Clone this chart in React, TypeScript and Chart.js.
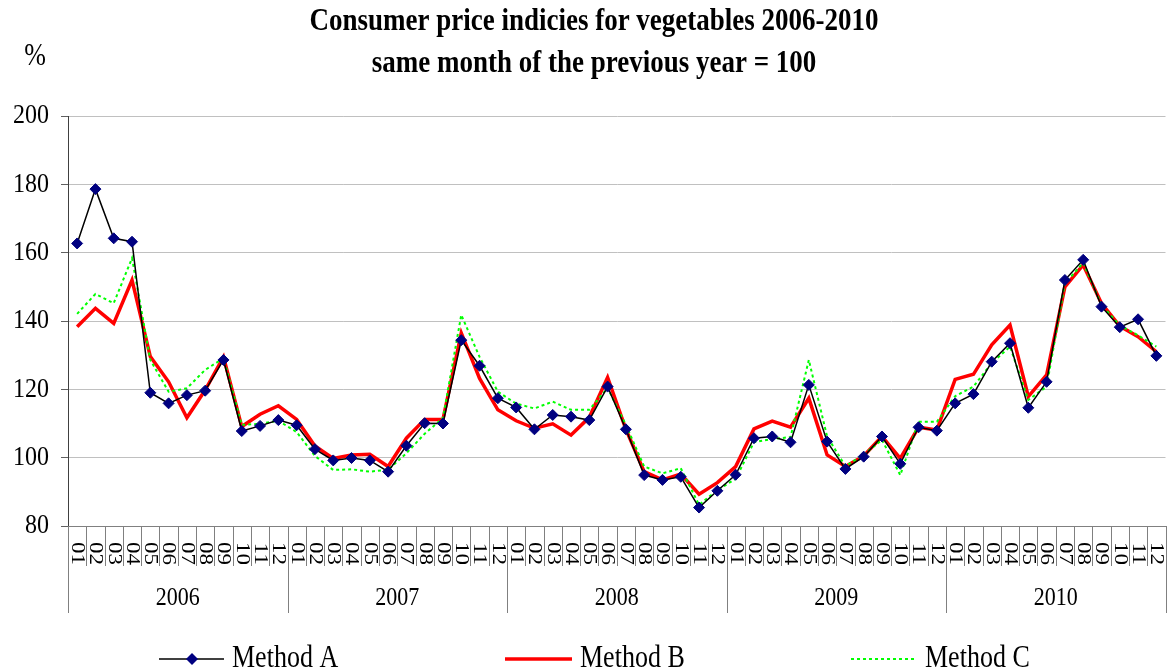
import React, { useEffect, useRef } from 'react';
import { Chart, registerables } from 'chart.js';

Chart.register(...registerables);

const years = ['2006', '2007', '2008', '2009', '2010'];
const months = ['01', '02', '03', '04', '05', '06', '07', '08', '09', '10', '11', '12'];
const categories = years.flatMap((y) => months.map((m) => `${y}-${m}`));
const yTicks = [80, 100, 120, 140, 160, 180, 200];

const methodA = [
  162.7, 178.6, 164.2, 163.2, 119.0, 115.9, 118.3, 119.6, 128.6, 107.8, 109.3, 111.0,
  109.5, 102.5, 99.2, 99.9, 99.2, 95.9, 103.5, 110.1, 110.0, 134.4, 126.9, 117.4,
  114.7, 108.3, 112.5, 112.0, 111.0, 120.8, 108.3, 94.9, 93.5, 94.4, 85.4, 90.3,
  95.0, 105.7, 106.2, 104.5, 121.3, 104.7, 96.7, 100.3, 106.2, 98.2, 108.9, 107.9,
  115.9, 118.6, 128.1, 133.5, 114.6, 122.2, 152.0, 157.9, 144.2, 138.2, 140.5, 129.8,
];

const methodB = [
  138.3, 143.7, 139.3, 152.0, 129.6, 122.2, 111.7, 119.8, 129.5, 109.1, 112.7, 115.2,
  111.2, 103.4, 99.8, 100.8, 101.0, 97.4, 105.7, 111.2, 111.2, 136.5, 123.2, 114.0,
  110.8, 108.6, 109.9, 106.6, 111.8, 123.5, 108.3, 95.9, 93.5, 95.2, 89.3, 92.7,
  97.4, 108.4, 110.7, 108.9, 117.4, 100.8, 97.4, 100.5, 106.2, 99.8, 108.9, 108.1,
  122.9, 124.4, 133.0, 138.8, 117.9, 124.2, 150.0, 156.4, 145.2, 138.5, 135.4, 131.0,
];

const methodC = [
  142.1, 147.9, 145.2, 158.4, 128.6, 119.3, 120.3, 125.7, 129.1, 109.6, 109.9, 110.8,
  107.5, 100.5, 96.4, 96.6, 95.9, 96.5, 101.3, 107.0, 111.6, 141.8, 129.5, 119.3,
  115.8, 114.4, 116.4, 114.0, 114.0, 120.4, 109.6, 97.4, 95.4, 96.9, 86.2, 90.5,
  93.8, 104.5, 105.5, 106.0, 128.6, 106.2, 97.5, 100.9, 105.2, 94.9, 110.5, 110.5,
  118.0, 120.8, 127.7, 132.5, 116.9, 120.8, 151.0, 157.0, 144.7, 138.7, 135.8, 132.5,
];

const titleLines = ['Consumer price indicies for vegetables 2006-2010', 'same month of the previous year = 100'];
const unitLabel = '%';
const seriesNames = ['Method A', 'Method B', 'Method C'];

const SERIF = '"Liberation Serif", "Times New Roman", serif';
// text in this chart is set slightly tall and narrow
const STRETCH = 1.18;

function tallText(ctx: CanvasRenderingContext2D, text: string, x: number, y: number, font: string, align: CanvasTextAlign) {
  ctx.save();
  ctx.font = font;
  ctx.textAlign = align;
  ctx.textBaseline = 'middle';
  ctx.translate(x, y);
  ctx.scale(1, STRETCH);
  ctx.fillText(text, 0, 0);
  ctx.restore();
}

const decorPlugin = {
  id: 'decor',
  afterDraw(chart: any) {
    const { ctx, chartArea } = chart;
    const { left, right, bottom } = chartArea;
    const xScale = chart.scales.x;
    const yScale = chart.scales.y;
    const n = categories.length;
    const w = (right - left) / n;
    ctx.save();
    ctx.fillStyle = '#000';

    // value axis labels
    yTicks.forEach((v) => {
      tallText(ctx, String(v), 49, yScale.getPixelForValue(v), `24px ${SERIF}`, 'right');
    });

    // category separators (month ticks and longer year dividers)
    ctx.strokeStyle = '#808080';
    ctx.lineWidth = 1;
    for (let i = 0; i <= n; i++) {
      const x = Math.round(left + i * w) + 0.5;
      const len = i % 12 === 0 ? 87 : 40;
      ctx.beginPath();
      ctx.moveTo(x, bottom);
      ctx.lineTo(x, bottom + len);
      ctx.stroke();
    }

    // month labels, rotated to read top to bottom
    ctx.font = `19.5px ${SERIF}`;
    ctx.textAlign = 'right';
    ctx.textBaseline = 'middle';
    categories.forEach((c, i) => {
      const xc = xScale.getPixelForValue(i);
      ctx.save();
      ctx.translate(xc, bottom + 39);
      ctx.rotate(Math.PI / 2);
      ctx.scale(STRETCH, 1);
      ctx.fillText(c.split('-')[1], 0, 0);
      ctx.restore();
    });

    // year labels
    years.forEach((y, k) => {
      const x0 = left + k * 12 * w;
      tallText(ctx, y, x0 + 6 * w, bottom + 72, `22px ${SERIF}`, 'center');
    });

    // title
    tallText(ctx, titleLines[0], 594, 22, `bold 27px ${SERIF}`, 'center');
    tallText(ctx, titleLines[1], 594, 64, `bold 27px ${SERIF}`, 'center');

    // unit label
    tallText(ctx, unitLabel, 35, 57, `26px ${SERIF}`, 'center');

    // legend
    const ly = 659;
    const lf = `26px ${SERIF}`;

    ctx.strokeStyle = '#000';
    ctx.lineWidth = 1.5;
    ctx.beginPath();
    ctx.moveTo(159, ly);
    ctx.lineTo(224, ly);
    ctx.stroke();
    ctx.fillStyle = '#000080';
    ctx.beginPath();
    ctx.moveTo(192, ly - 6);
    ctx.lineTo(198, ly);
    ctx.lineTo(192, ly + 6);
    ctx.lineTo(186, ly);
    ctx.closePath();
    ctx.fill();
    ctx.fillStyle = '#000';
    tallText(ctx, seriesNames[0], 232, ly, lf, 'left');

    ctx.strokeStyle = '#ff0000';
    ctx.lineWidth = 3.5;
    ctx.beginPath();
    ctx.moveTo(505, ly);
    ctx.lineTo(572, ly);
    ctx.stroke();
    tallText(ctx, seriesNames[1], 580, ly, lf, 'left');

    ctx.strokeStyle = '#00ff00';
    ctx.lineWidth = 2;
    ctx.setLineDash([3, 3]);
    ctx.beginPath();
    ctx.moveTo(851, ly);
    ctx.lineTo(916, ly);
    ctx.stroke();
    ctx.setLineDash([]);
    tallText(ctx, seriesNames[2], 925, ly, lf, 'left');

    ctx.restore();
  },
};

export default function App() {
  const canvasRef = useRef<HTMLCanvasElement | null>(null);

  useEffect(() => {
    const canvas = canvasRef.current;
    if (!canvas) return;
    const chart = new Chart(canvas, {
      type: 'line',
      data: {
        labels: categories,
        datasets: [
          {
            label: seriesNames[0],
            data: methodA,
            borderColor: '#000000',
            borderWidth: 1.5,
            pointStyle: 'rectRot',
            pointRadius: 5.5,
            pointBackgroundColor: '#000080',
            pointBorderColor: '#000080',
            pointBorderWidth: 1,
            tension: 0,
            order: 0,
          },
          {
            label: seriesNames[1],
            data: methodB,
            borderColor: '#ff0000',
            borderWidth: 3.5,
            pointRadius: 0,
            tension: 0,
            order: 2,
          },
          {
            label: seriesNames[2],
            data: methodC,
            borderColor: '#00ff00',
            borderWidth: 2,
            borderDash: [3, 3],
            pointRadius: 0,
            tension: 0,
            order: 1,
          },
        ],
      },
      options: {
        animation: false,
        responsive: false,
        events: [],
        layout: { padding: { top: 116, left: 0, right: 2, bottom: 0 } },
        plugins: {
          legend: { display: false },
          title: { display: false },
          tooltip: { enabled: false },
        },
        scales: {
          x: {
            type: 'category',
            offset: true,
            grid: { display: false },
            border: { display: true, color: '#808080' },
            ticks: { display: false },
            afterFit: (scale: any) => {
              scale.height = 146;
            },
          },
          y: {
            min: 80,
            max: 200,
            ticks: {
              stepSize: 20,
              color: 'rgba(0,0,0,0)',
              font: { family: SERIF, size: 22 },
              padding: 11,
            },
            grid: {
              color: '#c0c0c0',
              tickColor: '#606060',
              tickLength: 7,
            },
            border: { display: true, color: '#404040' },
            afterFit: (scale: any) => {
              scale.width = 68;
            },
          },
        },
      },
      plugins: [decorPlugin],
    });
    return () => chart.destroy();
  }, []);

  return (
    <div style={{ position: 'fixed', left: 0, top: 0, width: 1167, height: 672, overflow: 'hidden', background: '#fff' }}>
      <canvas ref={canvasRef} width={1172} height={672} style={{ width: 1172, height: 672 }} />
    </div>
  );
}
